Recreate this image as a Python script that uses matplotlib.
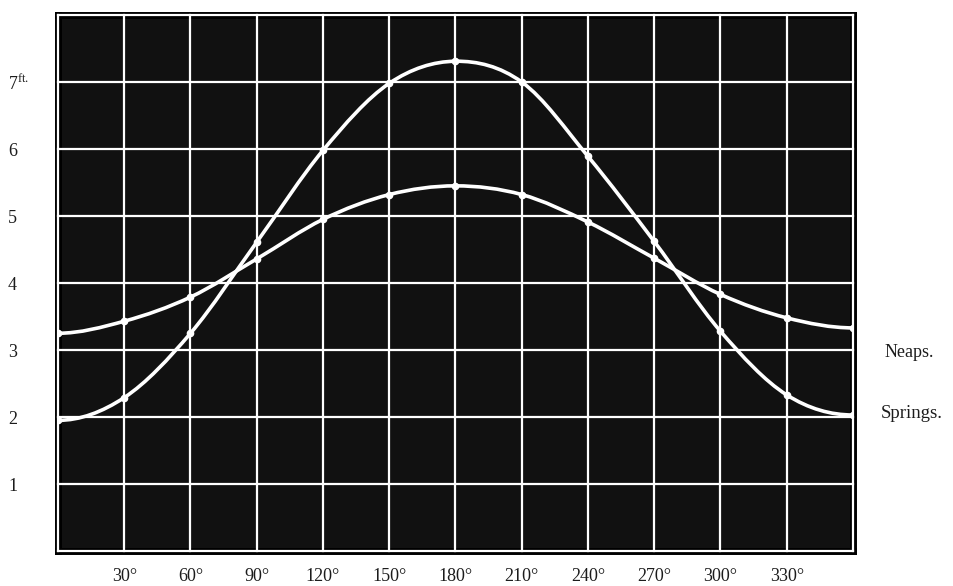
import matplotlib
matplotlib.use("Agg")
import matplotlib.pyplot as plt
from matplotlib.path import Path
from matplotlib.patches import PathPatch

# ── Data ─────────────────────────────────────────────────────────────────────
angles = [0, 30, 60, 90, 120, 150, 180, 210, 240, 270, 300, 330, 360]
neaps = [3.25, 3.43, 3.79, 4.36, 4.95, 5.32, 5.45, 5.32, 4.91, 4.37, 3.83, 3.48, 3.33]
springs = [1.95, 2.29, 3.25, 4.61, 5.98, 6.98, 7.31, 7.00, 5.89, 4.62, 3.28, 2.33, 2.03]

x_ticks = [30, 60, 90, 120, 150, 180, 210, 240, 270, 300, 330]
x_labels = ["30°", "60°", "90°", "120°", "150°", "180°", "210°", "240°", "270°", "300°", "330°"]
y_ticks = [1, 2, 3, 4, 5, 6, 7]
y_labels = ["1", "2", "3", "4", "5", "6", "7$^{\\rm ft.}$"]

BG = "#111111"
INK = "#1c1c1c"
SERIF = ["Liberation Serif", "DejaVu Serif"]

plt.rcParams["mathtext.fontset"] = "custom"
plt.rcParams["mathtext.rm"] = "Liberation Serif"

fig = plt.figure(figsize=(9.54, 5.86), dpi=100)
fig.patch.set_facecolor("white")
ax = fig.add_axes([0.0608, 0.0597, 0.8333, 0.9147])
ax.set_facecolor(BG)
ax.set_xlim(0, 360)
ax.set_ylim(0, 8)

# white ruled grid, every 30° and every foot
for gx in range(0, 361, 30):
    ax.axvline(gx, color="white", lw=1.6, zorder=3, clip_on=False)
for gy in range(0, 9):
    ax.axhline(gy, color="white", lw=1.6, zorder=3, clip_on=False)

for s in ax.spines.values():
    s.set_color("black")
    s.set_linewidth(5)


def smooth_curve(xs, ys):
    # Catmull-Rom through the ordinates, flat tangent at both ends
    verts = [(xs[0], ys[0])]
    codes = [Path.MOVETO]
    n = len(xs)
    for i in range(n - 1):
        if i == 0:
            t0 = 0.0
        else:
            t0 = (ys[i + 1] - ys[i - 1]) / 2
        if i + 1 == n - 1:
            t1 = 0.0
        else:
            t1 = (ys[i + 2] - ys[i]) / 2
        dx = xs[i + 1] - xs[i]
        verts += [(xs[i] + dx / 3, ys[i] + t0 / 3),
                  (xs[i + 1] - dx / 3, ys[i + 1] - t1 / 3),
                  (xs[i + 1], ys[i + 1])]
        codes += [Path.CURVE4] * 3
    return Path(verts, codes)


for series in (neaps, springs):
    ax.add_patch(PathPatch(smooth_curve(angles, series), facecolor="none",
                           edgecolor="white", lw=2.6, zorder=4, capstyle="round"))
    ax.plot(angles, series, linestyle="none", marker="o", markersize=4.5,
            markerfacecolor="white", markeredgecolor="white", zorder=5)

ax.set_xticks(x_ticks)
ax.set_xticklabels(x_labels, family=SERIF, fontsize=13, color=INK)
ax.set_yticks(y_ticks)
ax.set_yticklabels(y_labels, family=SERIF, fontsize=13, color=INK, ha="left")
ax.tick_params(length=0)
ax.tick_params(axis="x", pad=12)
ax.tick_params(axis="y", pad=36)

# curve names at the right
ax.text(1.04, 0.371, "Neaps.", transform=ax.transAxes,
        ha="left", va="center", family=SERIF, fontsize=13, color=INK)
ax.text(1.035, 0.257, "Springs.", transform=ax.transAxes,
        ha="left", va="center", family=SERIF, fontsize=13.5, color=INK)

fig.savefig("out.png", dpi=100, facecolor="white")
